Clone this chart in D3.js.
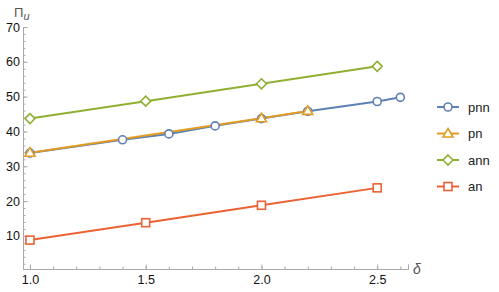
<!DOCTYPE html>
<html lang="en">
<head>
<meta charset="utf-8">
<title>Pi_u vs delta</title>
<script src="https://cdn.jsdelivr.net/npm/d3@7"></script>
<style>
  body { margin: 0; background: #fff; }
  text { font-family: "Liberation Sans", Arial, sans-serif; }
</style>
</head>
<body>
<script>
// data
var pnnX = [1.0, 1.4, 1.6, 1.8, 2.0, 2.2, 2.5, 2.6];
var pnnY = [33.8, 37.6, 39.3, 41.6, 43.7, 45.8, 48.6, 49.8];
var pnX = [1.0, 2.0, 2.2];
var pnY = [33.9, 43.8, 45.9];
var annX = [1.0, 1.5, 2.0, 2.5];
var annY = [43.7, 48.7, 53.7, 58.7];
var anX = [1.0, 1.5, 2.0, 2.5];
var anY = [8.8, 13.8, 18.8, 23.8];
var seriesNames = ["pnn", "pn", "ann", "an"];
var xTicks = [1.0, 1.5, 2.0, 2.5];
var yTicks = [10, 20, 30, 40, 50, 60, 70];

var w = 499, h = 292;

var svg = d3.select("body").append("svg")
  .attr("width", w).attr("height", h);

var x = d3.scaleLinear().domain([0.97, 2.633]).range([23, 408]);
var y = d3.scaleLinear().domain([0.5, 70]).range([269, 27]);

var colors = ["#5E81B5", "#E19C24", "#8FB032", "#EB6235"];
var shapes = ["circle", "triangle", "diamond", "square"];

// axes, ticks point inward
var xMinor = d3.range(1.0, 2.61, 0.1);
var yMinor = d3.range(2, 70.1, 2);

var xAxis = svg.append("g").attr("transform", "translate(0,269)")
  .call(d3.axisBottom(x).tickValues(xMinor).tickSize(-2.5).tickFormat(""));
xAxis.append("g").call(d3.axisBottom(x).tickValues(xTicks).tickSize(-4.5)
  .tickPadding(6).tickFormat(d3.format(".1f")));

var yAxis = svg.append("g").attr("transform", "translate(23,0)")
  .call(d3.axisLeft(y).tickValues(yMinor).tickSize(-2.5).tickFormat(""));
yAxis.append("g").call(d3.axisLeft(y).tickValues(yTicks).tickSize(-4.5).tickPadding(3));

svg.selectAll(".domain").attr("stroke", "#aaa");
svg.selectAll(".tick line").attr("stroke", "#aaa");
svg.selectAll(".tick text").attr("fill", "#111").style("font-size", "12.5px");
yAxis.select("g").select(".domain").remove();
xAxis.select("g").select(".domain").remove();

// axis labels
svg.append("text").attr("x", 413).attr("y", 274)
  .style("font-size", "14px").style("font-style", "italic").attr("fill", "#555")
  .text("δ");
var pl = svg.append("text").attr("x", 14).attr("y", 17)
  .style("font-size", "13px").attr("fill", "#555");
pl.append("tspan").text("Π");
pl.append("tspan").attr("dy", 3).style("font-style", "italic").style("font-size", "11px").text("u");

function marker(g, shape, color) {
  var s;
  if (shape === "circle") {
    s = g.append("circle").attr("r", 4);
  } else if (shape === "triangle") {
    s = g.append("path").attr("d", "M0,-5L5,3.5L-5,3.5Z");
  } else if (shape === "diamond") {
    s = g.append("path").attr("d", "M0,-5L5,0L0,5L-5,0Z");
  } else {
    s = g.append("rect").attr("x", -4).attr("y", -4).attr("width", 8).attr("height", 8);
  }
  s.attr("fill", "#fff").attr("stroke", color).attr("stroke-width", 1.6);
}

var series = [
  { xs: pnnX, ys: pnnY },
  { xs: pnX, ys: pnY },
  { xs: annX, ys: annY },
  { xs: anX, ys: anY }
];

var line = d3.line().x(function(d) { return x(d[0]); }).y(function(d) { return y(d[1]); });

series.forEach(function(s, i) {
  var pts = s.xs.map(function(v, j) { return [v, s.ys[j]]; });
  svg.append("path").datum(pts).attr("d", line)
    .attr("fill", "none").attr("stroke", colors[i]).attr("stroke-width", 2);
});
series.forEach(function(s, i) {
  s.xs.forEach(function(v, j) {
    var g = svg.append("g").attr("transform", "translate(" + x(v) + "," + y(s.ys[j]) + ")");
    marker(g, shapes[i], colors[i]);
  });
});

// legend
var lg = svg.append("g");
seriesNames.forEach(function(name, i) {
  var ly = 107 + i * 26.5;
  lg.append("line").attr("x1", 437).attr("x2", 459).attr("y1", ly).attr("y2", ly)
    .attr("stroke", colors[i]).attr("stroke-width", 2);
  var g = lg.append("g").attr("transform", "translate(448," + ly + ")");
  marker(g, shapes[i], colors[i]);
  lg.append("text").attr("x", 468).attr("y", ly + 4.5)
    .style("font-size", "13px").attr("fill", "#222").text(name);
});
</script>
</body>
</html>
